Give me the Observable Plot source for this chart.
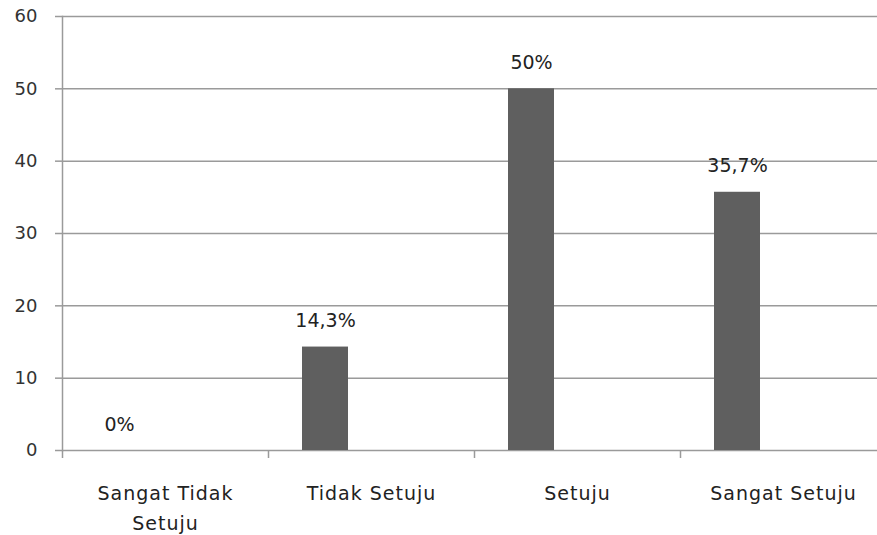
<!DOCTYPE html>
<html>
<head>
<meta charset="utf-8">
<script src="https://cdn.jsdelivr.net/npm/d3@7"></script>
<script src="https://cdn.jsdelivr.net/npm/@observablehq/plot@0.6"></script>
<style>
  html, body { margin: 0; padding: 0; background: #fff; }
  #chart svg { display: block; }
  #chart g[aria-label="x-axis tick label"] text { letter-spacing: 1px; }
</style>
</head>
<body>
<div id="chart"></div>
<script>
// Response categories (Likert scale) and their share of respondents, in percent
const categories = ["Sangat Tidak Setuju", "Tidak Setuju", "Setuju", "Sangat Setuju"];
const categoryLabels = ["Sangat Tidak\nSetuju", "Tidak Setuju", "Setuju", "Sangat Setuju"];
const percentages = [0, 14.3, 50, 35.7];
const yTicks = [0, 10, 20, 30, 40, 50, 60];

const data = categories.map((category, i) => ({category, value: percentages[i]}));

// Indonesian number style: decimal comma
const formatPct = v => d3.format("~g")(v).replace(".", ",") + "%";
const gridColor = "#9a9a9a";

const chart = Plot.plot({
  width: 877,
  height: 535,
  marginLeft: 62,
  marginRight: 0,
  marginTop: 16,
  marginBottom: 85,
  style: {fontFamily: "'DejaVu Sans', Verdana, sans-serif", background: "#fff", overflow: "visible"},
  x: {domain: categories, range: [62, 886], padding: 0, axis: null},
  y: {domain: [0, 60], axis: null},
  marks: [
    Plot.gridY(yTicks, {stroke: gridColor, strokeOpacity: 1, strokeWidth: 1.5}),
    Plot.frame({anchor: "left", stroke: gridColor, strokeWidth: 1.5}),
    Plot.axisY(yTicks, {
      label: null, tickSize: 7, tickPadding: 18, stroke: gridColor, strokeWidth: 1.5,
      fill: "#333", fontSize: 18
    }),
    // tick marks between the category bands
    Plot.axisX({label: null, tickSize: 8, tickFormat: () => "", dx: -103, stroke: gridColor, strokeWidth: 1.5}),
    // category names
    Plot.axisX({
      label: null, tickSize: 0, tickPadding: 28, fontSize: 19, lineHeight: 1.58, fill: "#222",
      tickFormat: d => categoryLabels[categories.indexOf(d)]
    }),
    Plot.barY(data, {x: "category", y: "value", fill: "#5f5f5f", insetLeft: 34, insetRight: 126}),
    Plot.text(data, {
      x: "category", y: "value", text: d => formatPct(d.value),
      dx: -46, dy: -26, fontSize: 19, fill: "#222"
    })
  ]
});

document.getElementById("chart").appendChild(chart);
</script>
</body>
</html>
